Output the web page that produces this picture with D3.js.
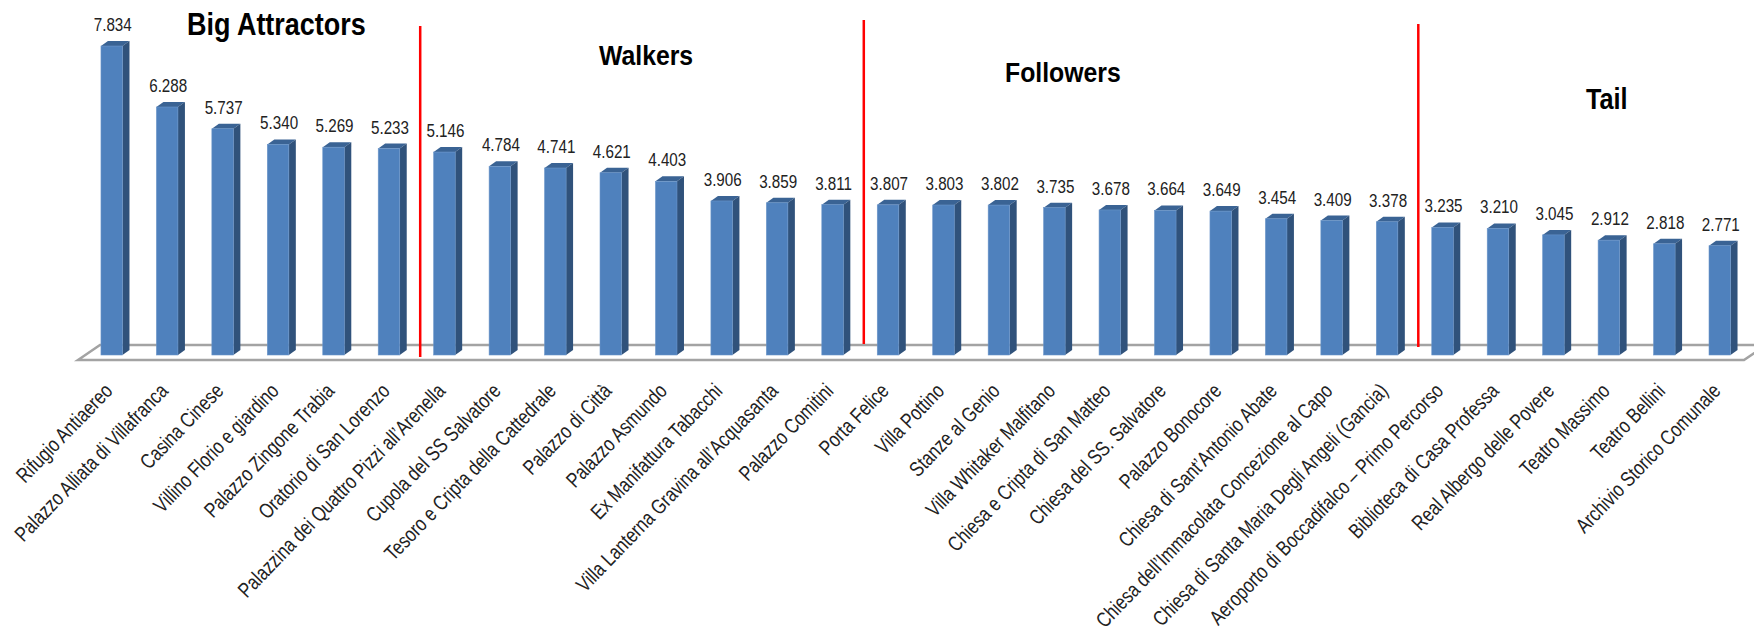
<!DOCTYPE html>
<html>
<head>
<meta charset="utf-8">
<script src="https://cdn.jsdelivr.net/npm/d3@7"></script>
<style>
  body { margin: 0; background: #fff; }
  svg text { font-family: "Liberation Sans", Arial, sans-serif; }
</style>
</head>
<body>
<div id="chart"></div>
<script>
const width = 1754;
const height = 641;

const categories = [
  "Rifugio Antiaereo", "Palazzo Alliata di Villafranca", "Casina Cinese",
  "Villino Florio e giardino", "Palazzo Zingone Trabia", "Oratorio di San Lorenzo",
  "Palazzina dei Quattro Pizzi all\u2019Arenella", "Cupola del SS Salvatore",
  "Tesoro e Cripta della Cattedrale", "Palazzo di Città", "Palazzo Asmundo",
  "Ex Manifattura Tabacchi", "Villa Lanterna Gravina all\u2019Acquasanta",
  "Palazzo Comitini", "Porta Felice", "Villa Pottino", "Stanze al Genio",
  "Villa Whitaker Malfitano", "Chiesa e Cripta di San Matteo",
  "Chiesa del SS. Salvatore", "Palazzo Bonocore", "Chiesa di Sant\u2019Antonio Abate",
  "Chiesa dell\u2019Immacolata Concezione al Capo",
  "Chiesa di Santa Maria Degli Angeli (Gancia)",
  "Aeroporto di Boccadifalco \u2013 Primo Percorso", "Biblioteca di Casa Professa",
  "Real Albergo delle Povere", "Teatro Massimo", "Teatro Bellini",
  "Archivio Storico Comunale"
];
const values = [
  7.834, 6.288, 5.737, 5.340, 5.269, 5.233, 5.146, 4.784, 4.741, 4.621,
  4.403, 3.906, 3.859, 3.811, 3.807, 3.803, 3.802, 3.735, 3.678, 3.664,
  3.649, 3.454, 3.409, 3.378, 3.235, 3.210, 3.045, 2.912, 2.818, 2.771
];
const groupNames = ["Big Attractors", "Walkers", "Followers", "Tail"];
const groupStarts = [0, 6, 14, 24];

// layout
const baseY = 355;
const floorBack = 345;
const floorFront = 360;
const depthX = 7;
const depthY = 5;
const narrow = 0.8; // the original type is a condensed face
const titleLayout = [
  { x: 187, y: 35, size: 31 },
  { x: 599, y: 65, size: 28.5 },
  { x: 1005, y: 82, size: 28.5 },
  { x: 1586, y: 109, size: 29 }
];
const dividerLayout = [
  { top: 26, bottom: 357 },
  { top: 20, bottom: 344 },
  { top: 24, bottom: 347 }
];

const data = categories.map((c, i) => ({ name: c, value: values[i] }));

const xScale = d3
  .scaleBand()
  .domain(categories)
  .range([84, 1747.5])
  .paddingInner(0.612)
  .paddingOuter(0.306);

const yScale = d3
  .scaleLinear()
  .domain([0, 8])
  .range([baseY, baseY - 8 * 39.44]);

const bw = xScale.bandwidth();

const svg = d3
  .select("#chart")
  .append("svg")
  .attr("width", width)
  .attr("height", height);

// floor
const [r0, r1] = xScale.range();
svg
  .append("path")
  .attr("d", d3.line()([
    [r0 - 6, floorFront],
    [r0 + 16, floorBack],
    [r1 + 19, floorBack],
    [r1 - 3.5, floorFront]
  ]) + "Z")
  .attr("fill", "#fff")
  .attr("stroke", "#a3a3a3")
  .attr("stroke-width", 2.5);

// bars
const bars = svg
  .selectAll("g.bar")
  .data(data)
  .enter()
  .append("g")
  .attr("class", "bar");

bars
  .append("path")
  .attr("fill", "#3a6394")
  .attr("d", d => {
    const x0 = xScale(d.name);
    const t = yScale(d.value);
    return d3.line()([
      [x0, t], [x0 + depthX, t - depthY],
      [x0 + bw + depthX, t - depthY], [x0 + bw, t]
    ]) + "Z";
  });

bars
  .append("path")
  .attr("fill", "#30527b")
  .attr("d", d => {
    const x0 = xScale(d.name) + bw;
    const t = yScale(d.value);
    return d3.line()([
      [x0, t], [x0 + depthX, t - depthY],
      [x0 + depthX, baseY - depthY], [x0, baseY]
    ]) + "Z";
  });

bars
  .append("rect")
  .attr("x", d => xScale(d.name))
  .attr("y", d => yScale(d.value))
  .attr("width", bw)
  .attr("height", d => baseY - yScale(d.value))
  .attr("fill", "#4f81bd")
  .attr("stroke", "#6a95c9")
  .attr("stroke-width", 0.6);

// value labels
svg
  .selectAll("text.value")
  .data(data)
  .enter()
  .append("text")
  .attr("class", "value")
  .attr("text-anchor", "middle")
  .attr("transform", d =>
    `translate(${xScale(d.name) + bw / 2 + 1},${yScale(d.value) - 15}) scale(${narrow},1)`)
  .style("font-size", "19px")
  .style("fill", "#222")
  .text(d => d.value.toFixed(3));

// category labels
svg
  .selectAll("text.cat")
  .data(data)
  .enter()
  .append("text")
  .attr("class", "cat")
  .attr("text-anchor", "end")
  .attr("transform", d =>
    `translate(${xScale(d.name) + bw / 2 + 2},392) rotate(-46) scale(0.8,1)`)
  .style("font-size", "21px")
  .style("fill", "#222")
  .text(d => d.name);

// group dividers
groupStarts.slice(1).forEach((g, i) => {
  const left = xScale(categories[g - 1]) + bw + depthX;
  const right = xScale(categories[g]);
  const x = (left + right) / 2;
  svg
    .append("line")
    .attr("x1", x)
    .attr("x2", x)
    .attr("y1", dividerLayout[i].top)
    .attr("y2", dividerLayout[i].bottom)
    .attr("stroke", "#ff0000")
    .attr("stroke-width", 2.5);
});

// group titles
groupNames.forEach((name, i) => {
  svg
    .append("text")
    .attr("transform", `translate(${titleLayout[i].x},${titleLayout[i].y}) scale(0.87,1)`)
    .style("font-size", titleLayout[i].size + "px")
    .style("font-weight", "bold")
    .style("fill", "#000")
    .text(name);
});
</script>
</body>
</html>
